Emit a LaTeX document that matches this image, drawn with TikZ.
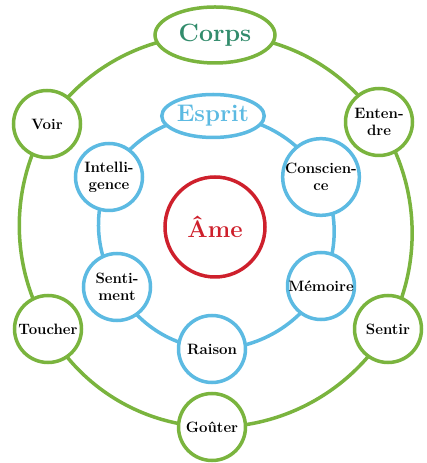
\documentclass[tikz,border=0pt]{standalone}
\usepackage{amsmath}
\usepackage{xcolor}
\usepackage{tikz}
\usetikzlibrary{arrows.meta, positioning, shapes.geometric, backgrounds}

\definecolor{corpsgreen}{RGB}{122,180,62}
\definecolor{corpstext}{RGB}{50,140,108}
\definecolor{espritblue}{RGB}{92,186,226}
\definecolor{amered}{RGB}{206,32,44}

\begin{document}
\begin{tikzpicture}[x=1pt, y=1pt,
    sense/.style={circle, draw=corpsgreen, line width=3.5pt, fill=white,
        minimum size=67pt, inner sep=0pt, align=center,
        font=\fontsize{15}{17}\selectfont\bfseries},
    faculty/.style={sense, draw=espritblue},
    greenring/.style={draw=corpsgreen, line width=3.5pt, looseness=0.91},
    bluering/.style={draw=espritblue, line width=3.5pt, looseness=0.91}]
    \useasboundingbox (0,0) rectangle (426,463);

    % Outer ring: the body and the five senses
    \node[ellipse, draw=corpsgreen, line width=3.5pt, fill=white, minimum width=120pt,
        minimum height=56pt, inner sep=0pt, text=corpstext,
        font=\fontsize{25}{29}\selectfont\bfseries] (corps) at (215,428) {Corps};
    \node[sense] (entendre) at (379,341) {Enten-\\dre};
    \node[sense] (sentir) at (388,134) {Sentir};
    \node[sense] (gouter) at (212,36) {Goûter};
    \node[sense] (toucher) at (48,134) {Toucher};
    \node[sense] (voir) at (47,339) {Voir};

    % Inner ring: the mind and its faculties
    \node[ellipse, draw=espritblue, line width=3.5pt, fill=white, minimum width=98pt,
        minimum height=43pt, inner sep=0pt, text=espritblue,
        font=\fontsize{24}{28}\selectfont\bfseries] (esprit) at (213,347) {Esprit};
    \node[faculty] (conscience) at (321,286) {Conscien-\\ce};
    \node[faculty] (memoire) at (321,177) {Mémoire};
    \node[faculty] (raison) at (212,114) {Raison};
    \node[faculty] (sentiment) at (117,176) {Senti-\\ment};
    \node[faculty] (intelligence) at (109,286) {Intelli-\\gence};

    % Soul
    \node[circle, draw=amered, line width=3.5pt, minimum size=100pt, text=amered,
        font=\fontsize{24}{28}\selectfont\bfseries] (ame) at (215,236) {Âme};

    % Arcs, behind the nodes
    \begin{scope}[on background layer]
        \draw[greenring] (corps.center) to[bend left=29] (entendre.center);
        \draw[greenring] (entendre.center) to[bend left=31] (sentir.center);
        \draw[greenring] (sentir.center) to[bend left=30] (gouter.center);
        \draw[greenring] (gouter.center) to[bend left=30] (toucher.center);
        \draw[greenring] (toucher.center) to[bend left=31] (voir.center);
        \draw[greenring] (voir.center) to[bend left=29] (corps.center);

        \draw[bluering] (esprit.center) to[bend left=31] (conscience.center);
        \draw[bluering] (conscience.center) to[bend left=27] (memoire.center);
        \draw[bluering] (memoire.center) to[bend left=31] (raison.center);
        \draw[bluering] (raison.center) to[bend left=30] (sentiment.center);
        \draw[bluering] (sentiment.center) to[bend left=29] (intelligence.center);
        \draw[bluering] (intelligence.center) to[bend left=31] (esprit.center);
    \end{scope}
\end{tikzpicture}
\end{document}
